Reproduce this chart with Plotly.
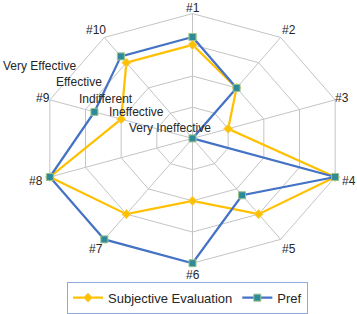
import numpy as np
import plotly.graph_objects as go

# ---- data ----
categories = ["#1", "#2", "#3", "#4", "#5", "#6", "#7", "#8", "#9", "#10"]
levels = ["Very Ineffective", "Ineffective", "Indifferent", "Effective", "Very Effective"]
level_values = [1, 2, 3, 4, 5]
subjective = [4, 3, 2, 5, 4, 3, 4, 5, 3, 4]
pref = [4.25, 3, 1, 5, 3.25, 5, 5, 5, 3.75, 4.25]

# ---- geometry (radar projected on stretched cartesian axes) ----
W, H = 357, 314
CX, CY = 192.5, 142.5          # centre in pixels
RX, RY = 150.0, 128.5          # outer radius in pixels (x, y)
rmin, rmax = level_values[0], level_values[-1]
span = rmax - rmin
ux, uy = RX / span, RY / span   # pixels per unit
xr = [-CX / ux, (W - CX) / ux]
yr = [-(H - CY) / uy, CY / uy]

n = len(categories)
theta = np.arange(n) * 2 * np.pi / n
s, c = np.sin(theta), np.cos(theta)


def project(vals):
    r = np.asarray(vals, dtype=float) - rmin
    x = list(r * s) + [r[0] * s[0]]
    y = list(r * c) + [r[0] * c[0]]
    return x, y


fig = go.Figure()

# grid rings and spokes
gx, gy = [], []
for lv in level_values[1:]:
    x, y = project([lv] * n)
    gx += x + [None]
    gy += y + [None]
for i in range(n):
    gx += [0, span * s[i], None]
    gy += [0, span * c[i], None]
fig.add_trace(go.Scatter(x=gx, y=gy, mode="lines",
                         line=dict(color="#C4C4C4", width=1),
                         hoverinfo="skip", showlegend=False))

sx, sy = project(subjective)
fig.add_trace(go.Scatter(x=sx, y=sy, mode="lines+markers", name="Subjective Evaluation",
                         line=dict(color="#FFC000", width=2.25),
                         marker=dict(symbol="diamond", size=7, color="#FFC000",
                                     line=dict(color="#F5D36B", width=1))))
px_, py_ = project(pref)
fig.add_trace(go.Scatter(x=px_, y=py_, mode="lines+markers", name="Pref",
                         line=dict(color="#4472C4", width=2.25),
                         marker=dict(symbol="square", size=7, color="#2E8A99",
                                     line=dict(color="#9BC48A", width=1))))

FONT = "Liberation Sans, Arial"
annotations = []
for i, cat in enumerate(categories):
    xs = 15 * s[i] - (7 if (abs(s[i]) > 0.9 and c[i] > 0) else 0) * np.sign(s[i])
    ys = 10.5 * c[i] - 1
    if c[i] > 0.99:
        ys = 5.5
    annotations.append(dict(x=span * s[i], y=span * c[i], xref="x", yref="y",
                            text=cat, showarrow=False,
                            xshift=xs, yshift=ys,
                            font=dict(family=FONT, size=12, color="#262626")))

level_pos = [(170, 132), (136.5, 115), (106, 102), (78.5, 84), (39, 68)]
for lab, (lx, ly) in zip(levels, level_pos):
    annotations.append(dict(x=lx / W, y=1 - ly / H, xref="paper", yref="paper",
                            text=lab, showarrow=False, xanchor="center", yanchor="middle",
                            font=dict(family=FONT, size=12, color="#262626")))

fig.update_layout(
    width=W, height=H, autosize=False,
    margin=dict(l=0, r=0, t=0, b=0),
    paper_bgcolor="white", plot_bgcolor="white",
    xaxis=dict(range=xr, visible=False, fixedrange=True),
    yaxis=dict(range=yr, visible=False, fixedrange=True),
    annotations=annotations,
    showlegend=True,
    legend=dict(orientation="h", x=187.5 / W, xanchor="center",
                y=1 - 290 / H, yanchor="top",
                bordercolor="#8EAADB", borderwidth=1, bgcolor="white",
                font=dict(family=FONT, size=13, color="#262626"),
                itemwidth=30, tracegroupgap=0),
)

fig.write_html("out.html", config={"displayModeBar": False},
               post_script="document.body.style.margin='0';document.body.style.overflow='hidden';")
